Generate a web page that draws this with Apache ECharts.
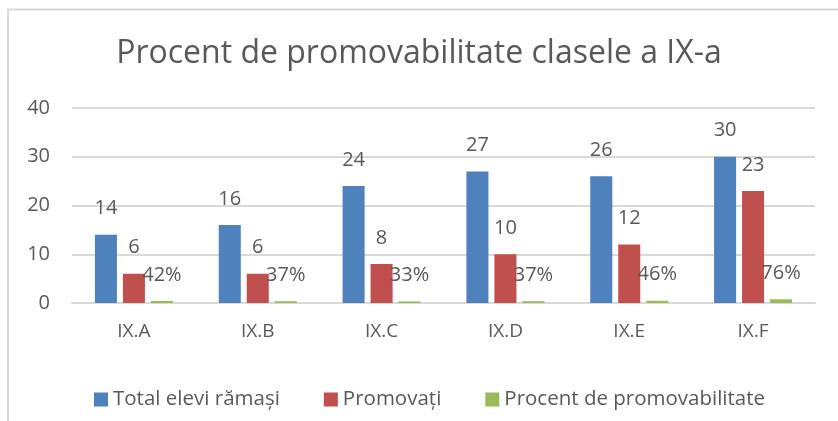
<!DOCTYPE html>
<html>
<head>
<meta charset="utf-8">
<script src="https://cdn.jsdelivr.net/npm/echarts@6/dist/echarts.min.js"></script>
<style>
  html, body { margin: 0; padding: 0; background: #fff; }
  #chart { width: 838px; height: 421px; }
</style>
</head>
<body>
<div id="chart"></div>
<script>
// date grafic
var clase = ['IX.A', 'IX.B', 'IX.C', 'IX.D', 'IX.E', 'IX.F'];
var totalElevi = [14, 16, 24, 27, 26, 30];
var promovati = [6, 6, 8, 10, 12, 23];
var procent = [0.42, 0.37, 0.33, 0.37, 0.46, 0.76];

var textColor = '#595959';
var font = '"Open Sans", "DejaVu Sans", sans-serif';

var chart = echarts.init(document.getElementById('chart'));

var labelStyle = {
    show: true,
    position: 'top',
    distance: 16,
    color: textColor,
    fontSize: 20,
    fontFamily: font
};

chart.setOption({
    animation: false,
    color: ['#4f81bd', '#c0504d', '#9bbb59'],
    title: {
        text: 'Procent de promovabilitate clasele a IX-a',
        left: 'center',
        top: 33,
        textStyle: {
            color: textColor,
            fontSize: 32,
            fontWeight: 'normal',
            fontFamily: font
        }
    },
    graphic: [{
        type: 'polyline',
        shape: { points: [[8, 421], [8, 9.5], [838, 9.5]] },
        style: { stroke: '#d9d9d9', lineWidth: 2, fill: null }
    }],
    legend: {
        bottom: 6,
        left: 89,
        itemWidth: 14,
        itemHeight: 14,
        itemGap: 44,
        icon: 'rect',
        textStyle: { color: textColor, fontSize: 20.5, fontFamily: font }
    },
    grid: {
        left: 72,
        right: 23,
        top: 108,
        bottom: 118
    },
    xAxis: {
        type: 'category',
        data: clase,
        axisTick: { show: false },
        axisLine: { lineStyle: { color: '#d9d9d9', width: 2 } },
        axisLabel: { color: textColor, fontSize: 19, fontFamily: font, margin: 19 }
    },
    yAxis: {
        type: 'value',
        min: 0,
        max: 40,
        interval: 10,
        axisLabel: { color: textColor, fontSize: 20, fontFamily: font, margin: 22 },
        splitLine: { lineStyle: { color: '#d9d9d9', width: 2 } }
    },
    series: [{
        name: 'Total elevi rămași',
        type: 'bar',
        data: totalElevi,
        barGap: '27%',
        barCategoryGap: '37%',
        label: labelStyle
    }, {
        name: 'Promovați',
        type: 'bar',
        data: promovati,
        label: labelStyle
    }, {
        name: 'Procent de promovabilitate',
        type: 'bar',
        data: procent,
        label: Object.assign({}, labelStyle, {
            formatter: function (p) {
                return Math.round(p.value * 100) + '%';
            }
        })
    }]
});
</script>
</body>
</html>
